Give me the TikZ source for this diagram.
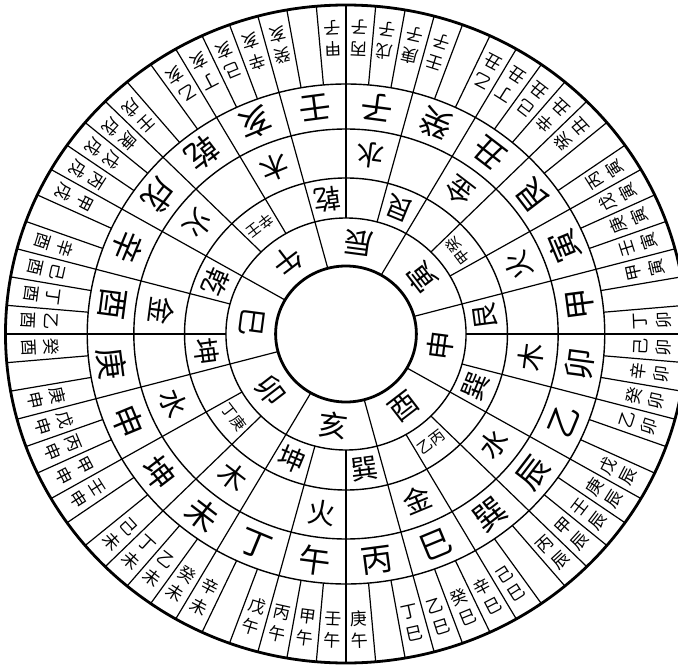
\documentclass[tikz,border=0pt]{standalone}
\usepackage{fontspec}
\newfontfamily\cjk{Noto Sans CJK TC}
\newcommand{\cjksize}[1]{\cjk\fontsize{#1}{#1}\selectfont}
\newcommand{\stemname}[1]{\ifcase#1\relax 甲\or 乙\or 丙\or 丁\or 戊\or 己\or 庚\or 辛\or 壬\or 癸\fi}
\tikzstyle{rim} = [line width=2.8pt]
\tikzstyle{ringline} = [line width=1.4pt]
\tikzstyle{spoke} = [line width=1.2pt]
\tikzstyle{sha} = [inner sep=0pt, font=\cjksize{29}]
\tikzstyle{huang} = [inner sep=0pt, font=\cjksize{27}]
\tikzstyle{huangpair} = [inner sep=0pt, font=\cjksize{15}]
\tikzstyle{wuxing} = [inner sep=0pt, font=\cjksize{28}]
\tikzstyle{shan} = [inner sep=0pt, font=\cjksize{32}]
\tikzstyle{dragon} = [inner sep=0pt, font=\cjksize{17}]
\begin{document}
\begin{tikzpicture}[x=1.035pt, y=1pt]
\useasboundingbox (-346pt,-336pt) rectangle (332pt,334pt);
\draw[rim] (0,0) circle (329);
\draw[rim] (0,0) circle (68);
\foreach \r in {116,156,205,250} \draw[ringline] (0,0) circle (\r);
\foreach \k in {0,...,7} \draw[spoke] ({105-45*\k}:68) -- ({105-45*\k}:116);
\foreach \i in {0,...,23} \draw[spoke] ({90-15*\i}:116) -- ({90-15*\i}:250);
\foreach \i in {0,...,71} \draw[spoke] ({95-5*\i}:250) -- ({95-5*\i}:329);

\foreach \c [count=\k from 0] in {辰,寅,申,酉,亥,卯,巳,午}
  \node[sha, rotate={172.5-45*\k}] (sha\k) at ({82.5-45*\k}:92) {\c};

\foreach \c/\m in {艮/0,艮/2,巽/3,巽/5,坤/6,坤/8,乾/9,乾/11}
  \node[huang, rotate={157.5-30*\m}] (huang\m) at ({67.5-30*\m}:136) {\c};
\foreach \c/\m in {甲癸/1,乙丙/4,丁庚/7,辛壬/10}
  \node[huangpair, rotate={157.5-30*\m}] (huang\m) at ({67.5-30*\m}:136) {\c};

\foreach \c [count=\k from 0] in {水,金,火,木,水,金,火,木,水,金,火,木}
  \node[wuxing, rotate={172.5-30*\k}] (wuxing\k) at ({82.5-30*\k}:180) {\c};

\foreach \c [count=\i from 0] in {子,癸,丑,艮,寅,甲,卯,乙,辰,巽,巳,丙,午,丁,未,坤,申,庚,酉,辛,戌,乾,亥,壬}
  \node[shan, rotate={172.5-15*\i}] (shan\i) at ({82.5-15*\i}:228) {\c};

\foreach \b [count=\k from 0] in {子,丑,寅,卯,辰,巳,午,未,申,酉,戌,亥}
  \foreach \j in {0,...,4} {
    \pgfmathtruncatemacro{\s}{mod(\k+2*\j,10)}
    \node[dragon, rotate={182.5-30*\k-5*\j}] (gan\k-\j) at ({92.5-30*\k-5*\j}:285) {\stemname{\s}};
    \node[dragon, rotate={182.5-30*\k-5*\j}] (zhi\k-\j) at ({92.5-30*\k-5*\j}:307) {\b};
  }
\end{tikzpicture}
\end{document}
